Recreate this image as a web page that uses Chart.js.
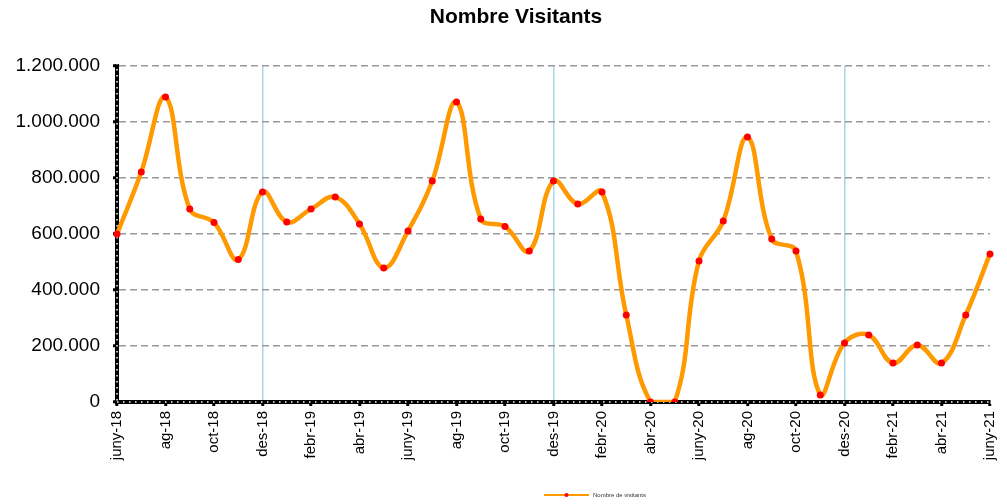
<!DOCTYPE html>
<html>
<head>
<meta charset="utf-8">
<script src="https://cdn.jsdelivr.net/npm/chart.js@4/dist/chart.umd.min.js"></script>
<style>
  html, body { margin: 0; padding: 0; background: #fff; }
  #wrap { width: 1007px; height: 504px; }
</style>
</head>
<body>
<div id="wrap"><canvas id="chart" width="1007" height="504"></canvas></div>
<script>
var months = [
    'juny-18', 'jul-18', 'ag-18', 'set-18', 'oct-18', 'nov-18', 'des-18',
    'gen-19', 'febr-19', 'març-19', 'abr-19', 'maig-19', 'juny-19', 'jul-19', 'ag-19', 'set-19', 'oct-19', 'nov-19', 'des-19',
    'gen-20', 'febr-20', 'març-20', 'abr-20', 'maig-20', 'juny-20', 'jul-20', 'ag-20', 'set-20', 'oct-20', 'nov-20', 'des-20',
    'gen-21', 'febr-21', 'març-21', 'abr-21', 'maig-21', 'juny-21'
];

var visitants = [
    600000, 821000, 1089000, 689000, 641000, 509000, 750000,
    643000, 689000, 732000, 636000, 479000, 611000, 789000, 1071000, 654000, 627000, 539000, 789000,
    707000, 750000, 311000, 0, 0, 504000, 646000, 946000, 582000, 539000, 25000, 211000,
    239000, 139000, 204000, 139000, 311000, 529000
];

var yTicks = [0, 200000, 400000, 600000, 800000, 1000000, 1200000];

var seriesName = 'Nombre de visitants';
var chartTitle = 'Nombre Visitants';

function fmtThousands(v) {
    return String(v).replace(/\B(?=(\d{3})+(?!\d))/g, '.');
}

function isDes(i) {
    return months[i] && months[i].indexOf('des-') === 0;
}

// white dots along the black axes, like the excel pattern
var axisDots = {
    id: 'axisDots',
    beforeDatasetsDraw: function (chart) {
        var a = chart.chartArea, ctx = chart.ctx;
        ctx.save();
        ctx.strokeStyle = '#ffffff';
        ctx.lineWidth = 1.5;
        ctx.setLineDash([1.5, 4.5]);
        ctx.beginPath();
        ctx.moveTo(a.left, a.top - 3);
        ctx.lineTo(a.left, a.bottom);
        ctx.moveTo(a.left, a.bottom);
        ctx.lineTo(a.right, a.bottom);
        ctx.stroke();
        ctx.restore();
    }
};

// title sits a bit right of the canvas centre in the original
var titleAndLegend = {
    id: 'titleAndLegend',
    afterDraw: function (chart) {
        var ctx = chart.ctx;
        ctx.save();
        ctx.fillStyle = '#000';
        ctx.font = 'bold 21px "Liberation Sans", Arial, sans-serif';
        ctx.textAlign = 'center';
        ctx.textBaseline = 'middle';
        ctx.fillText(chartTitle, 516, 17);

        var x0 = 544, x1 = 589, y = 495;
        ctx.strokeStyle = '#ff9900';
        ctx.lineWidth = 2;
        ctx.beginPath();
        ctx.moveTo(x0, y);
        ctx.lineTo(x1, y);
        ctx.stroke();
        ctx.fillStyle = '#ff0000';
        ctx.beginPath();
        ctx.arc((x0 + x1) / 2, y, 2, 0, Math.PI * 2);
        ctx.fill();
        ctx.fillStyle = '#333333';
        ctx.font = '6px "Liberation Sans", Arial, sans-serif';
        ctx.textAlign = 'left';
        ctx.fillText(seriesName, x1 + 4, y + 0.5);
        ctx.restore();
    }
};

new Chart(document.getElementById('chart'), {
    type: 'line',
    data: {
        labels: months,
        datasets: [{
            label: seriesName,
            data: visitants,
            borderColor: '#ff9900',
            backgroundColor: '#ff0000',
            borderWidth: 4.5,
            tension: 0.4,
            pointRadius: 3.5,
            pointBorderWidth: 0,
            pointBackgroundColor: '#ff0000',
            fill: false
        }]
    },
    options: {
        responsive: false,
        animation: false,
        layout: {
            padding: { left: 0, right: 17, top: 66, bottom: 27 }
        },
        scales: {
            x: {
                offset: false,
                afterFit: function (scale) {
                    scale.height = 75;
                    scale.paddingRight = 0;
                },
                ticks: {
                    autoSkip: false,
                    maxRotation: 90,
                    minRotation: 90,
                    padding: 5,
                    color: '#000',
                    font: { family: '"Liberation Sans", Arial, sans-serif', size: 15 },
                    callback: function (value, i) {
                        return i % 2 === 0 ? months[i] : '';
                    }
                },
                grid: {
                    drawOnChartArea: true,
                    color: function (c) { return isDes(c.index) ? '#a9d6e3' : 'rgba(0,0,0,0)'; },
                    lineWidth: 1.5,
                    tickLength: 4,
                    tickWidth: 3,
                    tickColor: function (c) { return c.index % 2 === 0 ? '#000' : 'rgba(0,0,0,0)'; }
                },
                border: { display: true, color: '#000', width: 4 }
            },
            y: {
                min: 0,
                max: 1200000,
                afterFit: function (scale) { scale.width = 117; },
                afterBuildTicks: function (scale) {
                    scale.ticks = yTicks.map(function (v) { return { value: v }; });
                },
                ticks: {
                    color: '#000',
                    padding: 13,
                    font: { family: '"Liberation Sans", Arial, sans-serif', size: 19 },
                    callback: function (v) { return fmtThousands(v); }
                },
                grid: {
                    color: function (c) { return c.tick && c.tick.value === 0 ? 'rgba(0,0,0,0)' : '#999999'; },
                    lineWidth: 1.5,
                    tickLength: 4,
                    tickWidth: 3,
                    tickColor: '#000'
                },
                border: { display: true, color: '#000', width: 4, dash: [7, 4] }
            }
        },
        plugins: {
            legend: { display: false },
            tooltip: { enabled: false },
            title: { display: false }
        }
    },
    plugins: [axisDots, titleAndLegend]
});
</script>
</body>
</html>
